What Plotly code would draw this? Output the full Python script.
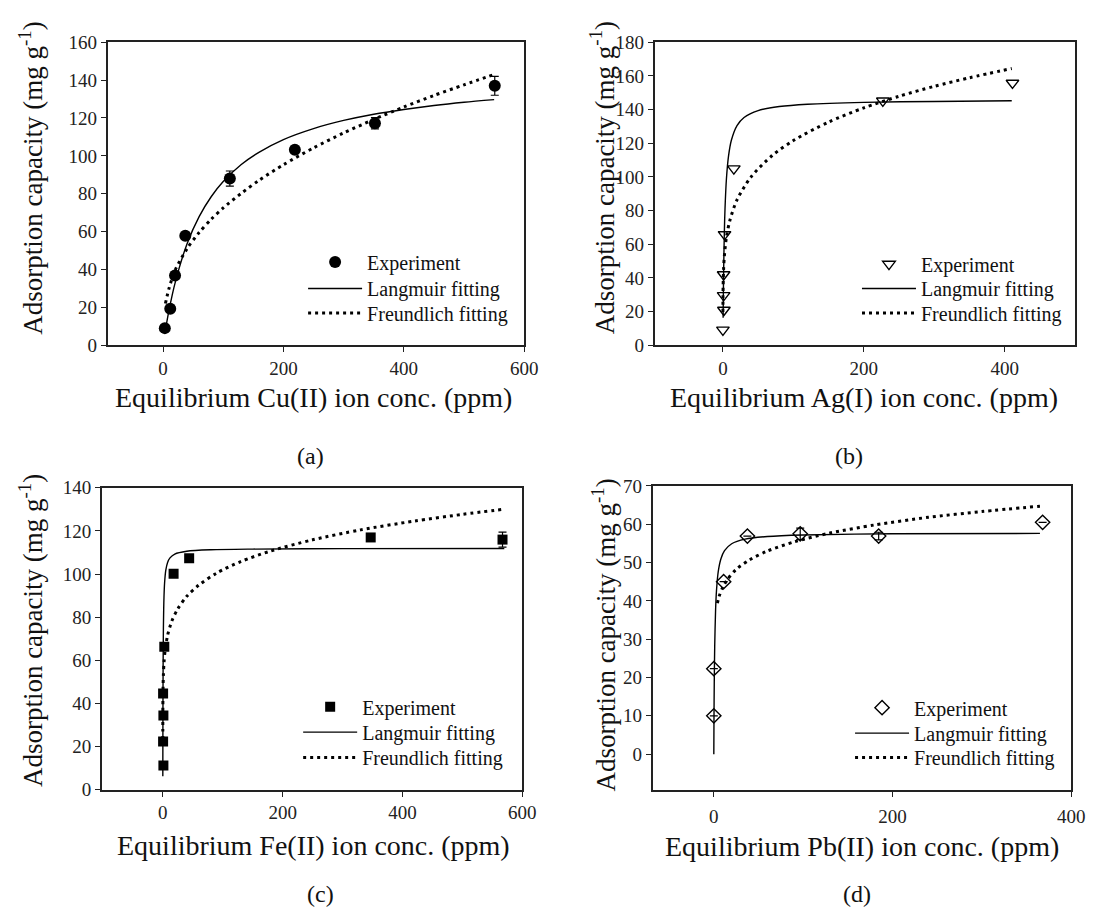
import plotly.graph_objects as go

FONT = "Liberation Serif"
W, H = 1102, 920

# ---------------- (a) Cu(II) ----------------
cu_c = [3, 12, 20, 37, 111, 219, 352, 551]
cu_q = [9.0, 19.2, 36.8, 57.8, 88.0, 103.2, 117.2, 137.0]
cu_err = [0.8, 1.0, 1.2, 1.0, 4.0, 1.5, 3.0, 5.0]
cu_lang_c = [4, 10, 20, 40, 60, 80, 100, 130, 160, 200, 250, 300, 350, 400, 450, 500, 550]
cu_lang_q = [8.0, 18.5, 32.8, 53.6, 67.9, 78.4, 86.4, 95.4, 102.0, 108.6, 114.4, 118.7,
             122.0, 124.5, 126.6, 128.3, 129.7]
cu_freu_c = [4, 10, 20, 40, 60, 80, 100, 130, 160, 200, 250, 300, 350, 400, 450, 500, 550]
cu_freu_q = [22.0, 30.0, 39.5, 51.0, 59.5, 66.5, 72.5, 80.2, 87.2, 95.3, 104.2, 112.1,
             119.2, 125.8, 131.9, 137.5, 143.0]

# ---------------- (b) Ag(I) ----------------
ag_c = [0, 1.4, 1, 1, 2.3, 15.5, 227, 411]
ag_q = [9.1, 20.9, 29.6, 42.0, 65.8, 104.9, 145.2, 155.8]
ag_lang_c = [0.3, 0.6, 1, 2, 3, 5, 8, 12, 20, 30, 50, 80, 120, 200, 300, 410]
ag_lang_q = [16.3, 29.4, 43.2, 66.7, 81.4, 98.9, 112.5, 121.8, 130.5, 135.3, 139.4,
             141.8, 143.2, 144.3, 144.8, 145.2]
ag_freu_c = [0.02, 0.1, 0.3, 1, 2, 5, 10, 20, 40, 70, 100, 150, 200, 250, 300, 350, 410]
ag_freu_q = [19.7, 27.8, 35.2, 45.5, 52.8, 64.2, 74.3, 86.3, 100.0, 112.7, 121.6, 132.6,
             141.0, 147.9, 153.8, 158.9, 164.4]

# ---------------- (c) Fe(II) ----------------
fe_c = [1, 0.5, 1, 0.5, 2.5, 18, 44, 347, 567]
fe_q = [11.3, 22.4, 34.4, 44.7, 66.3, 100.2, 107.4, 117.0, 116.0]
fe_err = [0, 0, 0, 0, 0, 0, 0, 1.0, 3.5]
fe_lang_c = [0.03, 0.1, 0.2, 0.4, 0.7, 1, 1.5, 2, 3, 5, 8, 12, 20, 40, 80, 150, 300, 570]
fe_lang_q = [6.3, 18.7, 32.0, 49.8, 65.3, 74.7, 84.0, 89.6, 96.0, 101.8, 105.4, 107.5,
             109.3, 110.6, 111.3, 111.6, 111.8, 111.9]
fe_freu_c = [0.001, 0.01, 0.1, 0.5, 1, 2, 4, 8, 15, 25, 40, 60, 90, 130, 180, 250, 330, 420, 500, 570]
fe_freu_q = [20.3, 28.1, 38.8, 48.6, 53.5, 59.0, 65.0, 71.6, 78.2, 83.9, 89.7, 94.9,
             100.5, 105.8, 110.7, 115.9, 120.5, 124.6, 127.7, 130.1]

# ---------------- (d) Pb(II) ----------------
pb_c = [0, 0, 11, 37.6, 96.7, 184.5, 368]
pb_q = [10.0, 22.3, 45.0, 56.9, 57.5, 56.9, 60.5]
pb_err = [0, 0, 0, 0, 1.5, 1.0, 0]
pb_lang_c = [0, 0.2, 0.5, 1, 2, 3, 5, 8, 12, 20, 35, 60, 100, 200, 365]
pb_lang_q = [0.0, 9.1, 18.5, 28.0, 37.7, 42.7, 47.7, 51.0, 53.1, 54.9, 56.1, 56.8,
             57.2, 57.5, 57.6]
pb_freu_c = [4, 6, 10, 15, 25, 40, 60, 90, 130, 180, 240, 300, 365]
pb_freu_q = [39.4, 41.2, 43.5, 45.5, 48.2, 50.7, 53.0, 55.4, 57.7, 59.8, 61.8, 63.3, 64.7]

legend_labels = ["Experiment", "Langmuir fitting", "Freundlich fitting"]
x_titles = ["Equilibrium Cu(II) ion conc. (ppm)", "Equilibrium Ag(I) ion conc. (ppm)",
            "Equilibrium Fe(II) ion conc. (ppm)", "Equilibrium Pb(II) ion conc. (ppm)"]
y_title = "Adsorption capacity (mg g<sup>-1</sup>)"
captions = ["(a)", "(b)", "(c)", "(d)"]

# panel geometry in pixels: (left, right, top, bottom)
boxes = [(109, 531, 33, 343), (663, 1089, 33, 343), (103, 529, 489, 798), (661, 1085, 487, 798)]
xranges = [[-92, 600], [-97, 500], [-102, 600], [-68.5, 400]]
yranges = [[0, 160], [0, 180], [0, 140], [-9.3, 70]]
xticks = [[0, 200, 400, 600], [0, 200, 400], [0, 200, 400, 600], [0, 200, 400]]
ydticks = [20, 20, 20, 10]
xtick_standoff = [None, None, None, 4]

panels = [
    (cu_c, cu_q, cu_err, cu_lang_c, cu_lang_q, cu_freu_c, cu_freu_q,
     dict(symbol="circle", size=12, color="black")),
    (ag_c, ag_q, None, ag_lang_c, ag_lang_q, ag_freu_c, ag_freu_q,
     dict(symbol="triangle-down-open", size=11, color="black", line=dict(width=1.4, color="black"))),
    (fe_c, fe_q, fe_err, fe_lang_c, fe_lang_q, fe_freu_c, fe_freu_q,
     dict(symbol="square", size=10, color="black")),
    (pb_c, pb_q, pb_err, pb_lang_c, pb_lang_q, pb_freu_c, pb_freu_q,
     dict(symbol="diamond-open", size=11, color="black", line=dict(width=1.4, color="black"))),
]

# legend placement (px): left edge, and centre of each of the three rows
legend_left = [307, 868, 302, 861]
legend_rows = [(258, 285, 310), (260, 285, 310), (713, 739, 765), (714, 740, 765)]

fig = go.Figure()
layout = dict(width=W, height=H, autosize=False, paper_bgcolor="white", plot_bgcolor="white",
              margin=dict(l=0, r=0, t=0, b=0), showlegend=True,
              font=dict(family=FONT, color="#111"))
annotations = []

def lgname(k):
    return "legend" if k == 1 else f"legend{k}"

for i, (c, q, err, lc, lq, fc, fq, mk) in enumerate(panels):
    n = i + 1
    xa = "x" if n == 1 else f"x{n}"
    ya = "y" if n == 1 else f"y{n}"
    lgs = [lgname(3 * i + 1), lgname(3 * i + 2), lgname(3 * i + 3)]
    errd = None
    if err is not None:
        errd = dict(type="data", array=err, visible=True, color="black", thickness=1.2, width=4)
    fig.add_trace(go.Scatter(x=c, y=q, mode="markers", marker=mk, error_y=errd,
                             name=legend_labels[0], xaxis=xa, yaxis=ya, legend=lgs[0]))
    fig.add_trace(go.Scatter(x=lc, y=lq, mode="lines", line=dict(color="black", width=1.4,
                             shape="spline", smoothing=0.8),
                             name=legend_labels[1], xaxis=xa, yaxis=ya, legend=lgs[1]))
    fig.add_trace(go.Scatter(x=fc, y=fq, mode="lines", line=dict(color="black", width=3,
                             dash="3px,4px", shape="spline", smoothing=0.8),
                             name=legend_labels[2], xaxis=xa, yaxis=ya, legend=lgs[2]))

    l, r, t, b = boxes[i]
    axx = dict(domain=[l / W, r / W], range=xranges[i], tickvals=xticks[i], showgrid=False,
               zeroline=False, showline=True, linecolor="#222", linewidth=1.5, mirror=True,
               ticks="outside", ticklen=5, tickcolor="#222",
               tickfont=dict(size=19, family=FONT, color="#222"), anchor=ya)
    if xtick_standoff[i] is not None:
        axx["ticklabelstandoff"] = xtick_standoff[i]
    axy = dict(domain=[1 - b / H, 1 - t / H], range=yranges[i], dtick=ydticks[i], tick0=0,
               showgrid=False, zeroline=False, showline=True, linecolor="#222", linewidth=1.5,
               mirror=True, ticks="outside", ticklen=5, tickcolor="#222",
               tickfont=dict(size=19, family=FONT, color="#222"), anchor=xa)
    layout["xaxis" if n == 1 else f"xaxis{n}"] = axx
    layout["yaxis" if n == 1 else f"yaxis{n}"] = axy

    for j in range(3):
        layout[lgs[j]] = dict(x=legend_left[i] / W, y=1 - legend_rows[i][j] / H,
                              xanchor="left", yanchor="middle", xref="paper", yref="paper",
                              bgcolor="rgba(0,0,0,0)", font=dict(size=20, family=FONT, color="#111"),
                              itemwidth=54, tracegroupgap=0)

# text annotations: y titles, x titles, captions
ytitle_pos = [(31, 172), (610, 172), (31, 635), (612, 640)]
xtitle_pos = [(318, 397), (875, 397), (318, 855), (873, 856)]
caption_pos = [(315, 456), (860, 456), (325, 905), (868, 905)]
for i in range(4):
    x, y = ytitle_pos[i]
    annotations.append(dict(text=y_title, x=x / W, y=1 - y / H, xref="paper", yref="paper",
                            textangle=-90, showarrow=False, xanchor="center", yanchor="middle",
                            font=dict(size=27, family=FONT, color="#111")))
    x, y = xtitle_pos[i]
    annotations.append(dict(text=x_titles[i], x=x / W, y=1 - y / H, xref="paper", yref="paper",
                            showarrow=False, xanchor="center", yanchor="middle",
                            font=dict(size=28, family=FONT, color="#111")))
    x, y = caption_pos[i]
    annotations.append(dict(text=captions[i], x=x / W, y=1 - y / H, xref="paper", yref="paper",
                            showarrow=False, xanchor="center", yanchor="middle",
                            font=dict(size=24, family=FONT, color="#111")))

layout["annotations"] = annotations
fig.update_layout(**layout)
fig.write_html("out.html")
